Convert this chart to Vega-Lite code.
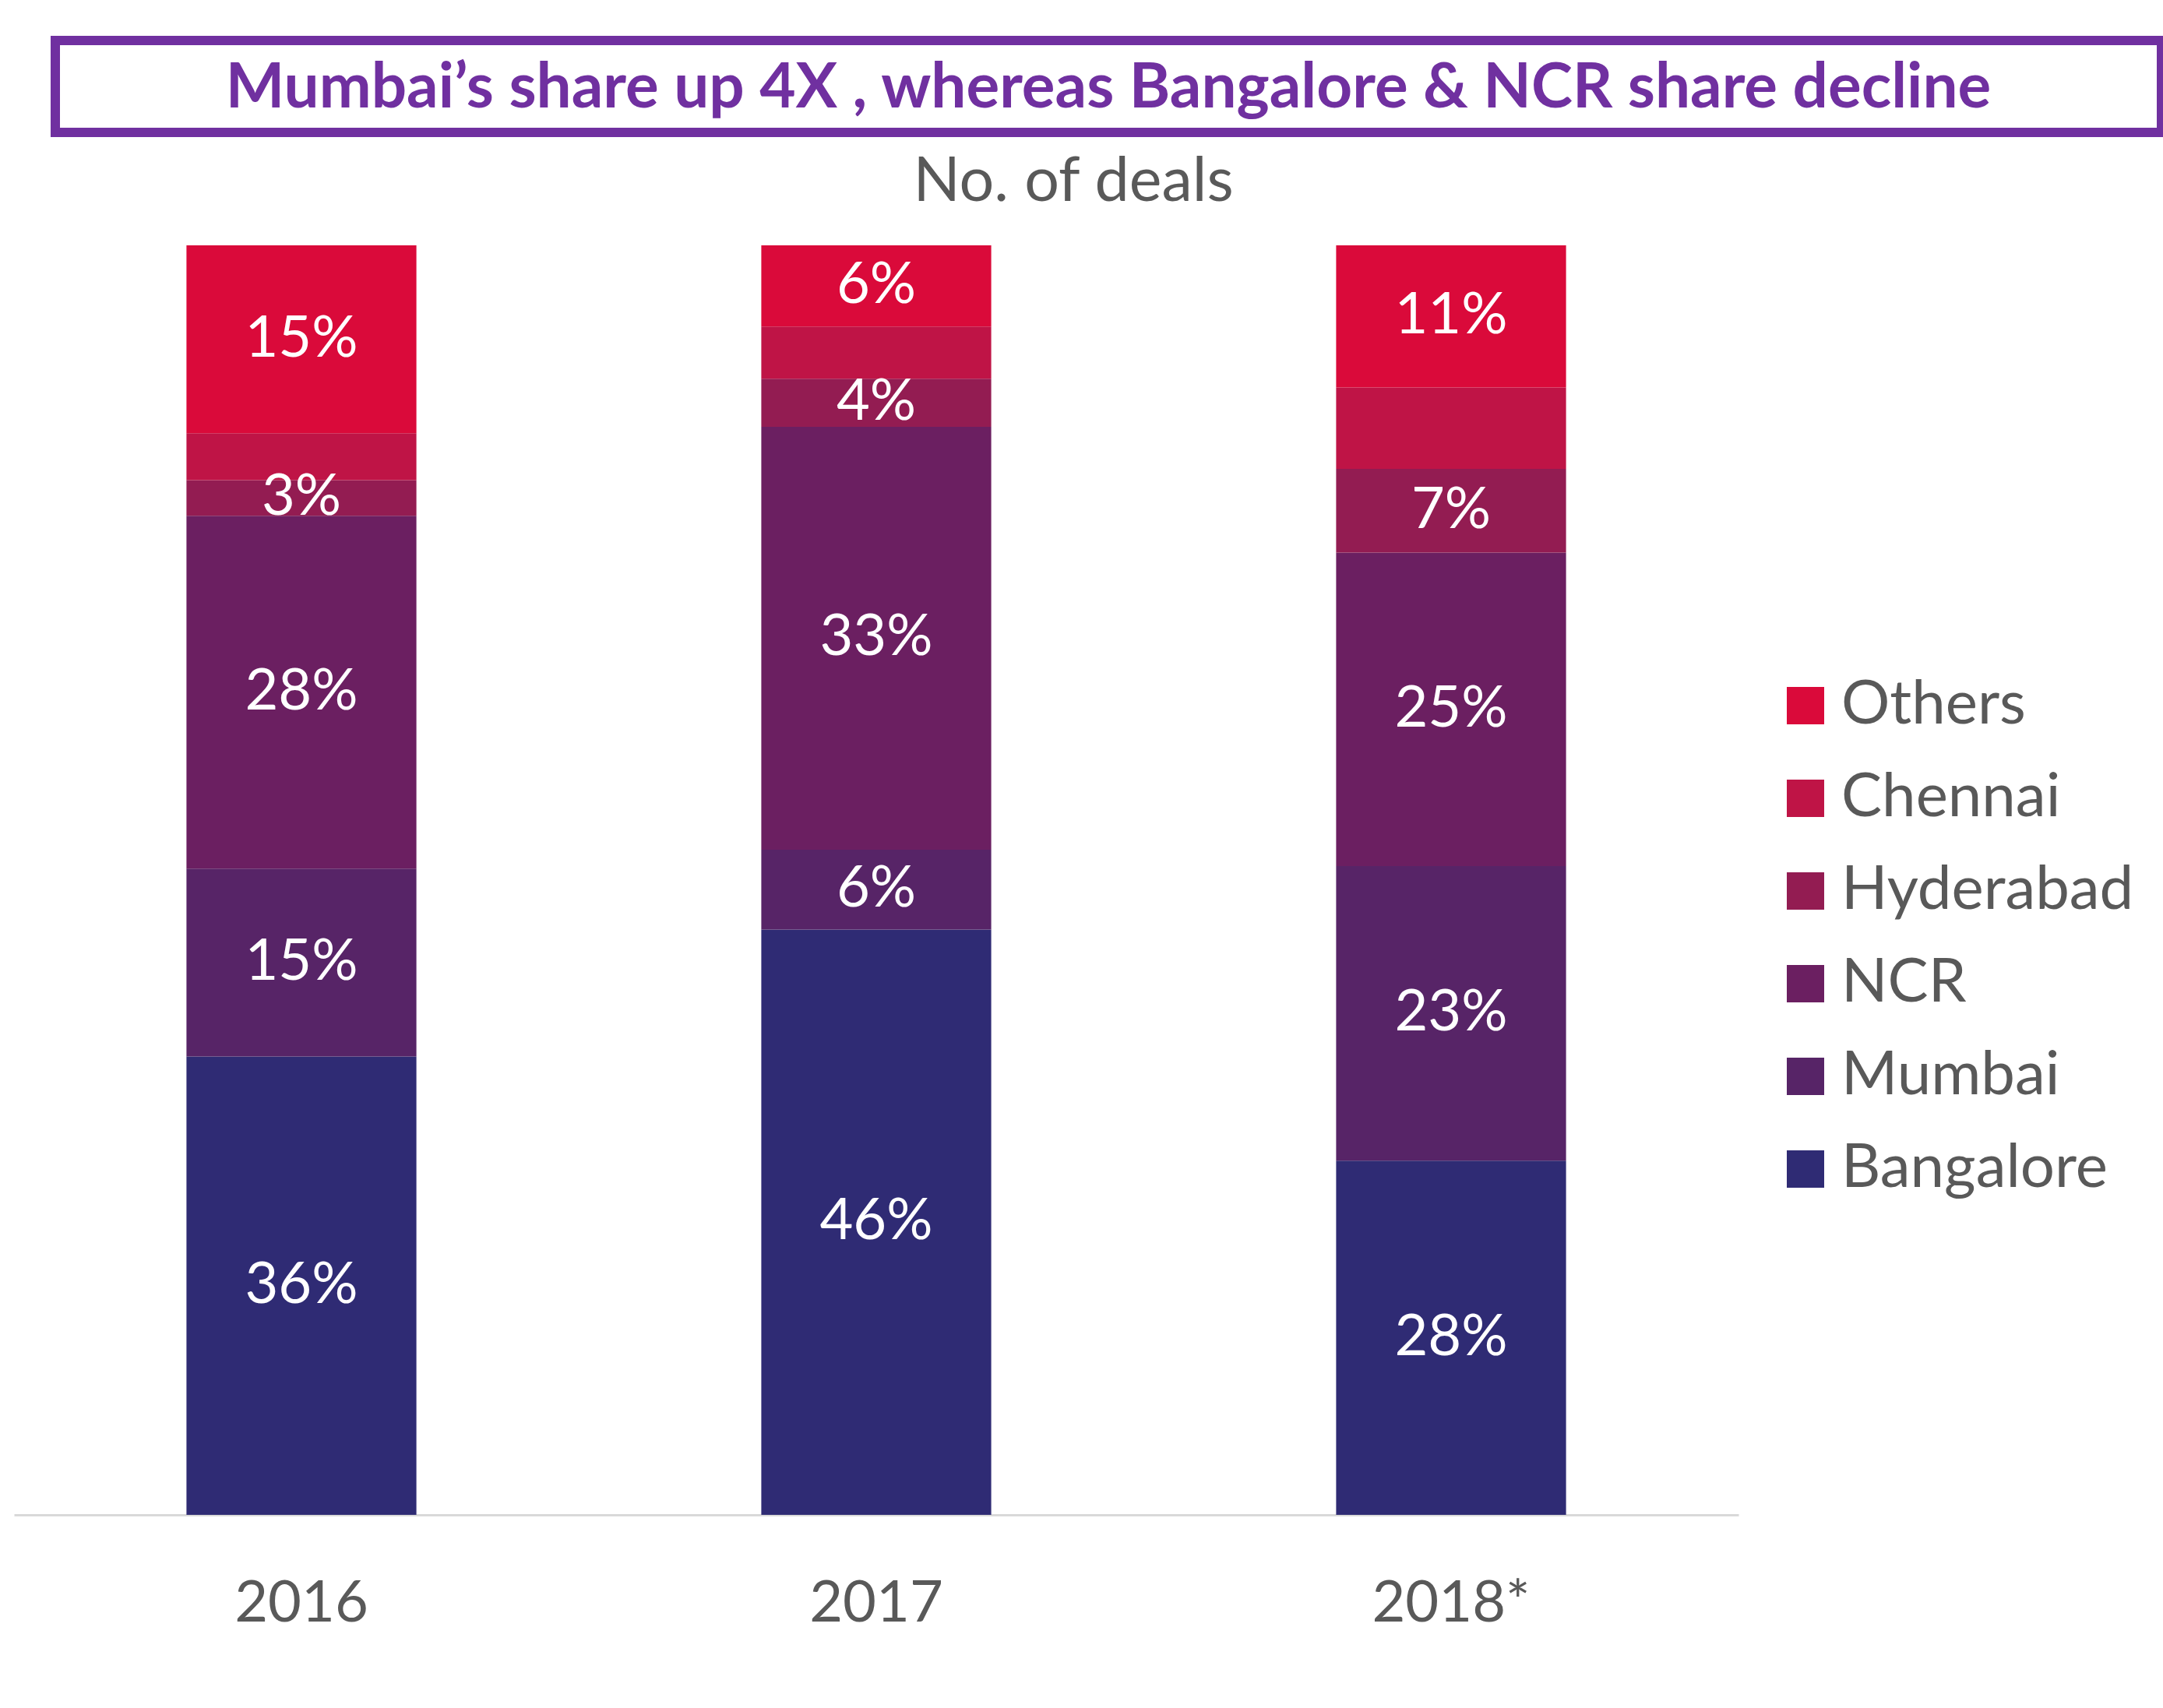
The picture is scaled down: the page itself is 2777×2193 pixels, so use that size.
{
  "$schema": "https://vega.github.io/schema/vega-lite/v6.json",
  "padding": {"left": 18, "top": 46, "right": 0, "bottom": 0},
  "background": "white",
  "config": {"font": "Lato", "view": {"stroke": null}},
  "spacing": 18,
  "datasets": {
    "headline": [{"headline": "Mumbai’s share up 4X , whereas Bangalore & NCR share decline"}],
    "deals": [
      {"Year": "2016", "City": "Bangalore", "rank": 1, "share": 0.361},
      {"Year": "2016", "City": "Mumbai", "rank": 2, "share": 0.148},
      {"Year": "2016", "City": "NCR", "rank": 3, "share": 0.278},
      {"Year": "2016", "City": "Hyderabad", "rank": 4, "share": 0.028},
      {"Year": "2016", "City": "Chennai", "rank": 5, "share": 0.037},
      {"Year": "2016", "City": "Others", "rank": 6, "share": 0.148},
      {"Year": "2017", "City": "Bangalore", "rank": 1, "share": 0.461},
      {"Year": "2017", "City": "Mumbai", "rank": 2, "share": 0.063},
      {"Year": "2017", "City": "NCR", "rank": 3, "share": 0.333},
      {"Year": "2017", "City": "Hyderabad", "rank": 4, "share": 0.038},
      {"Year": "2017", "City": "Chennai", "rank": 5, "share": 0.041},
      {"Year": "2017", "City": "Others", "rank": 6, "share": 0.064},
      {"Year": "2018*", "City": "Bangalore", "rank": 1, "share": 0.279},
      {"Year": "2018*", "City": "Mumbai", "rank": 2, "share": 0.232},
      {"Year": "2018*", "City": "NCR", "rank": 3, "share": 0.247},
      {"Year": "2018*", "City": "Hyderabad", "rank": 4, "share": 0.066},
      {"Year": "2018*", "City": "Chennai", "rank": 5, "share": 0.064},
      {"Year": "2018*", "City": "Others", "rank": 6, "share": 0.112}
    ]
  },
  "vconcat": [
    {
      "spacing": 0,
      "hconcat": [
        {
          "width": 47,
          "height": 118,
          "data": {"values": [{}]},
          "mark": {"type": "point", "opacity": 0},
          "encoding": {}
        },
        {
          "width": 2704,
          "height": 118,
          "view": {"stroke": "#7030A0", "strokeWidth": 12},
          "data": {"name": "headline"},
          "mark": {"type": "text", "font": "Lato", "fontWeight": "bold", "fontSize": 80, "color": "#7030A0", "baseline": "middle", "align": "center", "dy": 3},
          "encoding": {"text": {"field": "headline", "type": "nominal"}}
        }
      ]
    },
    {
      "width": 2214,
      "height": 1630,
      "title": {"text": "No. of deals", "font": "Lato", "fontSize": 79, "fontWeight": "normal", "color": "#595959", "anchor": "middle", "frame": "group", "offset": 40, "dx": 253},
      "data": {"name": "deals"},
      "layer": [
        {
          "mark": {"type": "bar"},
          "encoding": {
            "x": {
              "field": "Year", "type": "nominal", "sort": null,
              "scale": {"paddingInner": 0.6, "paddingOuter": 0.3},
              "axis": {"title": null, "labelAngle": 0, "ticks": false, "domainColor": "#D9D9D9", "domainWidth": 3, "labelFont": "Lato", "labelFontSize": 74, "labelColor": "#595959", "labelPadding": 78, "labelLimit": 600, "grid": false}
            },
            "y": {"field": "share", "type": "quantitative", "stack": "zero", "scale": {"domain": [0, 1], "nice": false}, "axis": null},
            "color": {
              "field": "City", "type": "nominal",
              "scale": {
                "domain": ["Others", "Chennai", "Hyderabad", "NCR", "Mumbai", "Bangalore"],
                "range": ["#DA0A3A", "#BF1446", "#931C52", "#6B1F61", "#572467", "#2F2B74"]
              },
              "legend": {
                "orient": "none", "legendX": 2261, "legendY": 815, "title": null,
                "symbolType": "square", "symbolSize": 2304, "symbolStrokeWidth": 0,
                "labelFont": "Lato", "labelFontSize": 78, "labelColor": "#595959",
                "labelOffset": 7, "rowPadding": 41, "padding": 0, "labelLimit": 800
              }
            },
            "order": {"field": "rank", "type": "quantitative", "sort": "ascending"}
          }
        },
        {
          "transform": [
            {"stack": "share", "groupby": ["Year"], "sort": [{"field": "rank", "order": "ascending"}], "as": ["lo", "hi"]},
            {"calculate": "(datum.lo + datum.hi) / 2", "as": "mid"},
            {"filter": "datum.City !== 'Chennai'"}
          ],
          "mark": {"type": "text", "font": "Lato", "fontSize": 74, "color": "white", "baseline": "middle", "align": "center"},
          "encoding": {
            "x": {"field": "Year", "type": "nominal", "sort": null},
            "y": {"field": "mid", "type": "quantitative"},
            "text": {"field": "share", "type": "quantitative", "format": ".0%"}
          }
        }
      ]
    }
  ]
}
